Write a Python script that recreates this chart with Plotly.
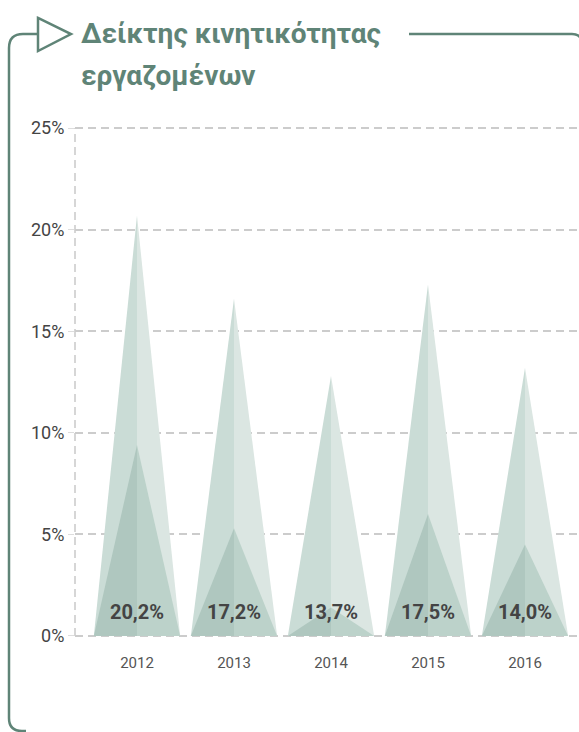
import plotly.graph_objects as go

# ---- data ----
years = ["2012", "2013", "2014", "2015", "2016"]
outer_values = [20.7, 16.6, 12.8, 17.3, 13.2]   # tall triangles (%)
inner_values = [9.4, 5.3, 1.4, 6.0, 4.5]       # short triangles (%)
index_labels = ["20,2%", "17,2%", "13,7%", "17,5%", "14,0%"]
y_ticks = [0, 5, 10, 15, 20, 25]
y_tick_text = ["0%", "5%", "10%", "15%", "20%", "25%"]
title_line1 = "Δείκτης κινητικότητας"
title_line2 = "εργαζομένων"

# ---- styles ----
W, H = 579, 732
L, R, T, B = 75, 0, 127, 95
GREEN = "#5f8477"
OUTER_L, OUTER_R = "#cadcd6", "#dbe6e2"
INNER_L, INNER_R = "#afc7bf", "#bcd2ca"
HALF = 0.445  # half base width in category units
YMIN, YMAX = -0.05, 25.05

fig = go.Figure()

def tri(xc, h, side, color):
    if side == "L":
        xs = [xc - HALF, xc, xc, xc - HALF]
    else:
        xs = [xc, xc, xc + HALF, xc]
    ys = [0, h, 0, 0]
    fig.add_trace(go.Scatter(x=xs, y=ys, mode="lines", fill="toself",
                             fillcolor=color, line=dict(width=0, color=color),
                             hoverinfo="skip", showlegend=False))

for i, v in enumerate(outer_values):
    tri(i, v, "L", OUTER_L)
    tri(i, v, "R", OUTER_R)
for i, v in enumerate(inner_values):
    tri(i, v, "L", INNER_L)
    tri(i, v, "R", INNER_R)

fig.add_trace(go.Scatter(
    x=list(range(len(years))), y=[1.1] * len(years), mode="text",
    text=index_labels, textposition="middle center",
    textfont=dict(family="Roboto", size=20, color="#444444", weight="bold"),
    hoverinfo="skip", showlegend=False))

# pixel -> paper helpers for decorative frame
pw, ph = W - L - R, H - T - B
def px(x): return (x - L) / pw
def py(y): return (H - B - y) / ph
def P(x, y): return f"{px(x):.5f},{py(y):.5f}"

frame_left = (f"M {P(38,34)} L {P(23,34)} Q {P(9,34)} {P(9,48)} "
              f"L {P(9,718)} Q {P(9,731)} {P(22,731)} L {P(26,731)}")
arrow = f"M {P(38,18)} L {P(71,34)} L {P(38,51)} Z"
frame_right = (f"M {P(409,34)} L {P(572,34)} Q {P(582,34)} {P(582,44)} L {P(582,740)}")

shapes = [
    dict(type="line", xref="paper", yref="y", x0=0, x1=0, y0=0, y1=25,
         line=dict(color="#d6d6d6", width=2, dash="8px,5px"), layer="below"),
    dict(type="path", path=frame_left, xref="paper", yref="paper",
         line=dict(color=GREEN, width=2.5), layer="above"),
    dict(type="path", path=arrow, xref="paper", yref="paper",
         line=dict(color=GREEN, width=2.5), fillcolor="rgba(0,0,0,0)", layer="above"),
    dict(type="path", path=frame_right, xref="paper", yref="paper",
         line=dict(color=GREEN, width=2.5), layer="above"),
]

annotations = [
    dict(text=title_line1, x=px(79), y=py(34), xref="paper", yref="paper",
         xanchor="left", yanchor="middle", showarrow=False,
         font=dict(family="Roboto", size=28, color=GREEN, weight="bold")),
    dict(text=title_line2, x=px(79), y=py(76), xref="paper", yref="paper",
         xanchor="left", yanchor="middle", showarrow=False,
         font=dict(family="Roboto", size=28, color=GREEN, weight="bold")),
]

x0 = (L - 137) / 97.0
x1 = (W - R - 137) / 97.0

fig.update_layout(
    width=W, height=H,
    margin=dict(l=L, r=R, t=T, b=B, pad=0),
    paper_bgcolor="white", plot_bgcolor="white",
    shapes=shapes, annotations=annotations,
    xaxis=dict(range=[x0, x1], tickmode="array",
               tickvals=list(range(len(years))), ticktext=years,
               showgrid=False, zeroline=False, showline=False,
               ticks="outside", ticklen=12, tickcolor="rgba(0,0,0,0)",
               tickfont=dict(family="Roboto", size=15, color="#555555"),
               fixedrange=True),
    yaxis=dict(range=[YMIN, YMAX], tickmode="array", tickvals=y_ticks, ticktext=y_tick_text,
               showgrid=True, gridcolor="#cccccc", gridwidth=2, griddash="8px,5px",
               zeroline=False, showline=False,
               ticks="outside", ticklen=6, tickcolor="#dddddd",
               tickfont=dict(family="Roboto", size=18, color="#444444"),
               fixedrange=True),
)

fig.write_html("out.html", config={"displayModeBar": False},
               post_script="document.body.style.margin='0';document.body.style.overflow='hidden';")
